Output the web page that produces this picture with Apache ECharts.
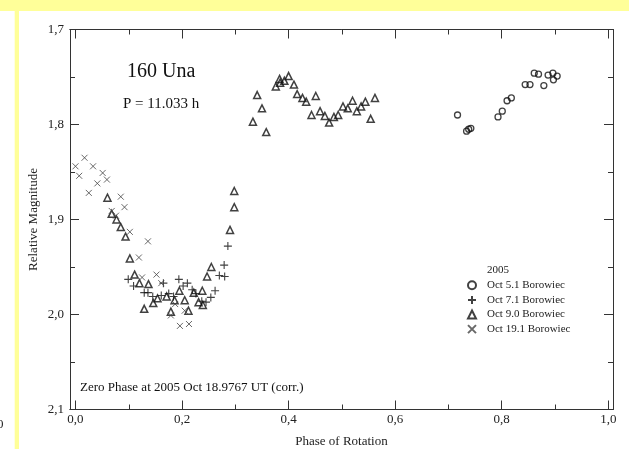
<!DOCTYPE html>
<html>
<head>
<meta charset="utf-8">
<script src="https://cdn.jsdelivr.net/npm/echarts@6/dist/echarts.min.js"></script>
<style>
  html, body { margin: 0; padding: 0; background: #ffff99; }
  #chart { width: 629px; height: 449px; }
</style>
</head>
<body>
<div id="chart"></div>
<script>
// Lightcurve of (160) Una, composite of four nights, folded on P = 11.033 h.
// Each point: [phase of rotation, relative magnitude]

const oct05 = [
  [0.717, 1.790], [0.734, 1.807], [0.738, 1.805], [0.742, 1.804],
  [0.793, 1.792], [0.801, 1.786], [0.810, 1.775], [0.818, 1.772],
  [0.844, 1.758], [0.853, 1.758], [0.861, 1.746], [0.869, 1.747],
  [0.879, 1.759], [0.887, 1.748], [0.896, 1.746], [0.897, 1.753],
  [0.904, 1.749]
];

const oct07 = [
  [0.099, 1.963], [0.109, 1.970], [0.129, 1.977], [0.136, 1.977],
  [0.145, 1.981], [0.161, 1.980], [0.165, 1.967], [0.175, 1.978],
  [0.184, 1.981], [0.194, 1.963], [0.202, 1.970], [0.210, 1.967],
  [0.219, 1.974], [0.226, 1.978], [0.237, 1.986], [0.245, 1.987],
  [0.254, 1.982], [0.262, 1.975], [0.270, 1.959], [0.280, 1.960],
  [0.279, 1.948], [0.286, 1.928]
];

const oct09 = [
  [0.060, 1.877], [0.068, 1.894], [0.077, 1.900], [0.085, 1.908],
  [0.094, 1.918], [0.102, 1.941], [0.111, 1.958], [0.120, 1.967],
  [0.137, 1.968], [0.129, 1.994], [0.146, 1.988], [0.154, 1.983],
  [0.171, 1.981], [0.179, 1.997], [0.186, 1.985], [0.195, 1.975],
  [0.205, 1.985], [0.212, 1.996], [0.222, 1.977], [0.231, 1.987],
  [0.239, 1.990], [0.238, 1.975], [0.247, 1.960], [0.255, 1.950],
  [0.290, 1.911], [0.298, 1.887], [0.298, 1.870],
  [0.333, 1.797], [0.341, 1.769], [0.350, 1.783], [0.358, 1.808],
  [0.376, 1.760], [0.383, 1.752], [0.384, 1.756], [0.392, 1.754],
  [0.400, 1.749], [0.410, 1.758], [0.416, 1.768], [0.426, 1.772],
  [0.433, 1.776], [0.443, 1.790], [0.451, 1.770], [0.459, 1.786],
  [0.468, 1.791], [0.476, 1.798], [0.485, 1.792], [0.493, 1.790],
  [0.502, 1.781], [0.511, 1.783], [0.520, 1.775], [0.528, 1.786],
  [0.536, 1.781], [0.544, 1.776], [0.554, 1.794], [0.562, 1.772]
];

const oct19 = [
  [0.000, 1.844], [0.017, 1.835], [0.007, 1.854], [0.033, 1.844],
  [0.051, 1.851], [0.041, 1.862], [0.059, 1.858], [0.025, 1.872],
  [0.085, 1.876], [0.092, 1.887], [0.068, 1.891], [0.076, 1.896],
  [0.102, 1.913], [0.136, 1.923], [0.119, 1.940], [0.125, 1.961],
  [0.152, 1.958], [0.161, 1.967], [0.187, 1.989], [0.179, 2.001],
  [0.196, 2.012], [0.213, 2.010], [0.205, 1.996]
];

const seriesNames = ['Oct 5.1 Borowiec', 'Oct 7.1 Borowiec', 'Oct 9.0 Borowiec', 'Oct 19.1 Borowiec'];
const phaseTicks = [0, 0.2, 0.4, 0.6, 0.8, 1.0];
const phaseMinorTicks = [0.1, 0.3, 0.5, 0.7, 0.9];

const SERIF = '"Liberation Serif", "DejaVu Serif", serif';
const frameColor = '#333';
const comma = v => v.toFixed(1).replace('.', ',');

// phase range is padded a little so the frame sits just outside 0 and 1
const xMin = -0.0103, xMax = 1.0088;

function phaseAxis(position, values, len, labels) {
  return {
    type: 'value', position: position, min: xMin, max: xMax,
    splitLine: { show: false },
    axisLine: { show: true, onZero: false, lineStyle: { color: frameColor, width: 1 } },
    axisTick: { show: true, inside: true, length: len, customValues: values,
                lineStyle: { color: frameColor, width: 1 } },
    axisLabel: labels ? {
      show: true, customValues: values, formatter: comma, margin: 4,
      fontFamily: SERIF, fontSize: 13, color: '#222'
    } : { show: false }
  };
}

function magAxis(position, labels) {
  return {
    type: 'value', position: position, inverse: true,
    min: 1.7, max: 2.1, interval: 0.1,
    splitLine: { show: false },
    axisLine: { show: true, onZero: false, lineStyle: { color: frameColor, width: 1 } },
    axisTick: { show: true, inside: true, length: 9, lineStyle: { color: frameColor } },
    minorTick: { show: true, splitNumber: 2, length: 5, lineStyle: { color: frameColor } },
    axisLabel: labels ? {
      show: true, formatter: comma, margin: 6,
      fontFamily: SERIF, fontSize: 13, color: '#222'
    } : { show: false },
    name: labels ? 'Relative Magnitude' : '',
    nameLocation: 'middle', nameGap: 30, nameRotate: 90, nameMoveOverlap: false,
    nameTextStyle: { fontFamily: SERIF, fontSize: 13, color: '#222' }
  };
}

const bottomAxis = phaseAxis('bottom', phaseTicks, 9, true);
bottomAxis.name = 'Phase of Rotation';
bottomAxis.nameLocation = 'middle';
bottomAxis.nameGap = 26;
bottomAxis.nameMoveOverlap = false;
bottomAxis.nameTextStyle = { fontFamily: SERIF, fontSize: 13, color: '#222' };

const plusPath = 'path://M5,0L5,10M0,5L10,5';
const crossPath = 'path://M0,0L10,10M10,0L0,10';

const chart = echarts.init(document.getElementById('chart'), null, { renderer: 'canvas' });
chart.setOption({
  animation: false,
  backgroundColor: '#ffff99',
  grid: { left: 70, right: 16, top: 29.5, bottom: 39.5, containLabel: false, outerBoundsMode: 'none' },
  xAxis: [
    bottomAxis,
    phaseAxis('bottom', phaseMinorTicks, 5, false),
    phaseAxis('top', phaseTicks, 9, false),
    phaseAxis('top', phaseMinorTicks, 5, false)
  ],
  yAxis: [magAxis('left', true), magAxis('right', false)],
  legend: {
    orient: 'vertical', left: 462, top: 273,
    itemWidth: 8, itemHeight: 8, itemGap: 0,
    symbolKeepAspect: true,
    selectedMode: false,
    data: seriesNames,
    textStyle: { fontFamily: SERIF, fontSize: 11, color: '#222', lineHeight: 14.6,
                 padding: [0, 0, 0, 6] }
  },
  graphic: [
    { type: 'rect', z: -10, shape: { x: 0, y: 11, width: 14.7, height: 438 }, style: { fill: '#fff' } },
    { type: 'rect', z: -10, shape: { x: 19, y: 11, width: 610, height: 438 }, style: { fill: '#fff' } },
    { type: 'text', left: -3, top: 418, style: { text: '0', font: '13px ' + SERIF, fill: '#222' } },
    { type: 'text', left: 127, top: 62, style: { text: '160 Una', font: '20px ' + SERIF, fill: '#111' } },
    { type: 'text', left: 123, top: 97, style: { text: 'P = 11.033 h', font: '15px ' + SERIF, fill: '#111' } },
    { type: 'text', left: 80, top: 381, style: { text: 'Zero Phase at 2005 Oct 18.9767 UT (corr.)', font: '13px ' + SERIF, fill: '#111' } },
    { type: 'text', left: 487, top: 265, style: { text: '2005', font: '11px ' + SERIF, fill: '#222' } }
  ],
  series: [
    { name: seriesNames[0], type: 'scatter', data: oct05, symbol: 'circle', symbolSize: 6,
      itemStyle: { color: 'rgba(0,0,0,0)', borderColor: '#111', borderWidth: 1.3 } },
    { name: seriesNames[1], type: 'scatter', data: oct07, symbol: plusPath, symbolSize: 8,
      itemStyle: { color: 'rgba(0,0,0,0)', borderColor: '#111', borderWidth: 1.1 } },
    { name: seriesNames[2], type: 'scatter', data: oct09, symbol: 'triangle', symbolSize: 7,
      itemStyle: { color: 'rgba(0,0,0,0)', borderColor: '#111', borderWidth: 1.5 } },
    { name: seriesNames[3], type: 'scatter', data: oct19, symbol: crossPath, symbolSize: 6,
      itemStyle: { color: 'rgba(0,0,0,0)', borderColor: '#444', borderWidth: 1 } }
  ]
});
</script>
</body>
</html>
